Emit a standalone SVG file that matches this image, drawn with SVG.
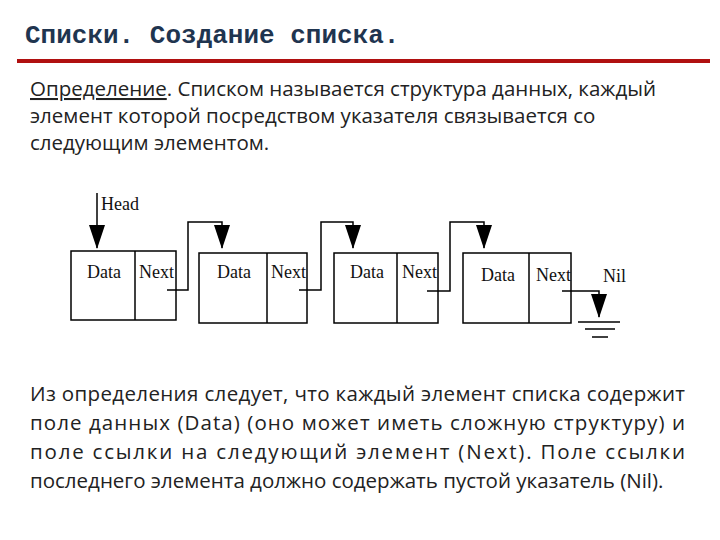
<svg xmlns="http://www.w3.org/2000/svg" width="720" height="540" viewBox="0 0 720 540">
<style>
.t{font-family:"Liberation Mono",monospace;font-weight:bold;font-size:26px;fill:#1f3550}
.p{font-family:"Open Sans","Noto Sans",sans-serif;font-size:20.5px;fill:#222}
.s{font-family:"Liberation Serif",serif;font-size:18px;fill:#111}
.box{fill:#fff;stroke:#000;stroke-width:1.5}
.c{fill:none;stroke:#000;stroke-width:1.5}
</style>
<defs><marker id="a" markerWidth="24" markerHeight="16" refX="23" refY="8" orient="auto" markerUnits="userSpaceOnUse" viewBox="0 0 24 16"><path d="M0,0L24,8L0,16Z" fill="#000"/></marker></defs>
<rect width="720" height="540" fill="#fff"/>
<text class="t" x="25" y="43">Списки. Создание списка.</text>
<rect x="17" y="59" width="693" height="4" fill="#b01010"/>
<text class="p" x="30" y="96"><tspan text-decoration="underline">Определение</tspan>. Списком называется структура данных, каждый</text>
<text class="p" x="30" y="123">элемент которой посредством указателя связывается со</text>
<text class="p" x="30" y="150">следующим элементом.</text>
<g id="n1"><rect class="box" x="71" y="251" width="105" height="69"/><line class="c" x1="135" y1="251" x2="135" y2="320"/><text class="s" x="87" y="278">Data</text><text class="s" x="139" y="278">Next</text></g>
<g id="n2"><rect class="box" x="199" y="253" width="108" height="70" stroke-width="2"/><line class="c" x1="267" y1="253" x2="267" y2="323"/><text class="s" x="217" y="278">Data</text><text class="s" x="271" y="278">Next</text></g>
<g id="n3"><rect class="box" x="334" y="253" width="104" height="70"/><line class="c" x1="397" y1="253" x2="397" y2="323"/><text class="s" x="350" y="278">Data</text><text class="s" x="402" y="278">Next</text></g>
<g id="n4"><rect class="box" x="463" y="253" width="108" height="70"/><line class="c" x1="529" y1="253" x2="529" y2="323"/><text class="s" x="481" y="281">Data</text><text class="s" x="536" y="281">Next</text></g>
<g id="head"><text class="s" x="101" y="210" font-size="20">Head</text></g>
<g id="nil"><text class="s" x="603" y="282" font-size="22">Nil</text><line class="c" x1="578" y1="322" x2="620" y2="322" stroke-width="2"/><line class="c" x1="585" y1="329" x2="615" y2="329"/><line class="c" x1="592" y1="337" x2="608" y2="337"/></g>
<g id="connectors">
<path class="c" d="M97,193V248" marker-end="url(#a)"/>
<path class="c" d="M167,290H188V222H222V248" marker-end="url(#a)"/>
<path class="c" d="M299,290H321V222H353V248" marker-end="url(#a)"/>
<path class="c" d="M427,291H450V222H484V248" marker-end="url(#a)"/>
<path class="c" d="M562,291H599V317" marker-end="url(#a)"/>
</g>
<text class="p" x="30" y="401" textLength="655" lengthAdjust="spacing">Из определения следует, что каждый элемент списка содержит</text>
<text class="p" x="30" y="430" textLength="655" lengthAdjust="spacing">поле данных (Data) (оно может иметь сложную структуру) и</text>
<text class="p" x="30" y="459" textLength="655" lengthAdjust="spacing">поле ссылки на следующий элемент (Next). Поле ссылки</text>
<text class="p" x="30" y="488">последнего элемента должно содержать пустой указатель (Nil).</text>
</svg>
